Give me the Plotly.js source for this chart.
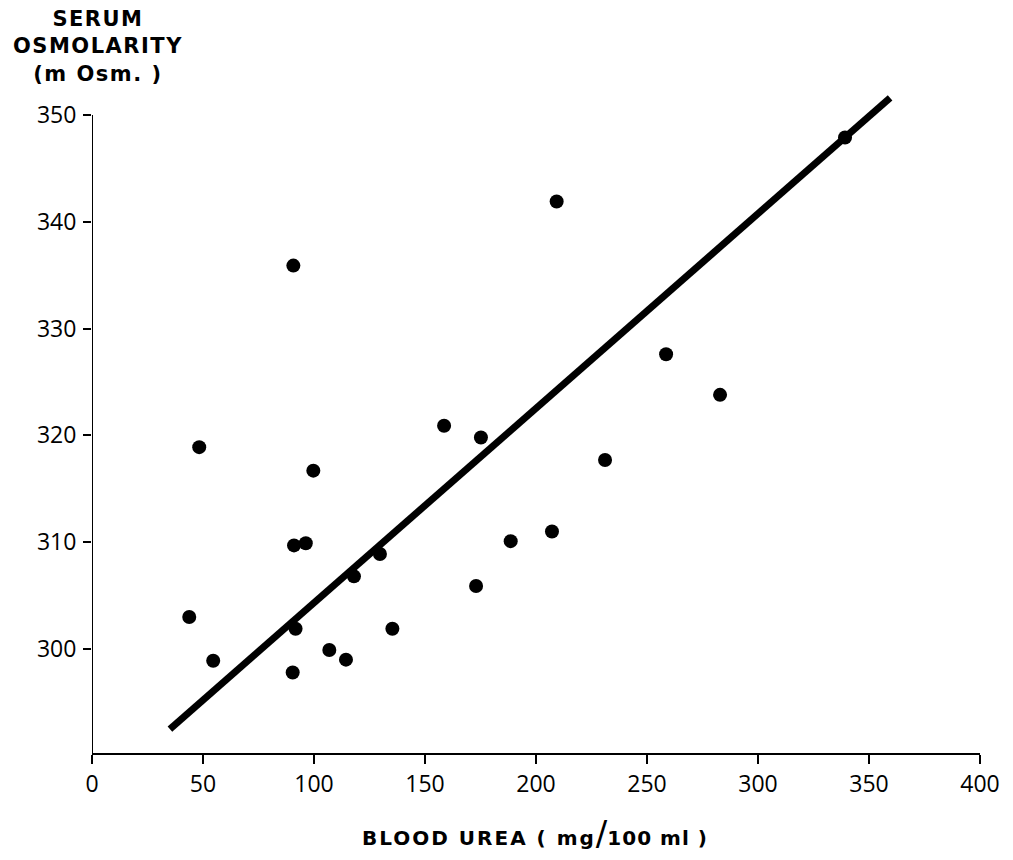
<!DOCTYPE html>
<html>
<head>
<meta charset="utf-8">
<script src="https://cdn.plot.ly/plotly-3.0.1.min.js"></script>
<style>
  html, body { margin: 0; padding: 0; background: #ffffff; }
  #chart { width: 1013px; height: 860px; }
</style>
</head>
<body>
<div id="chart"></div>
<script>
// Blood urea (mg/100ml) vs serum osmolarity (mOsm.)
const bloodUrea = [43.8, 48.3, 54.6, 90.7, 91.0, 91.7, 90.4, 96.3, 99.7, 106.9, 114.4, 118.0,
                   129.7, 135.3, 158.6, 175.2, 173.0, 188.6, 207.2, 209.3, 231.1, 258.6, 282.9, 339.2];
const serumOsmolarity = [303.0, 318.9, 298.9, 335.9, 309.7, 301.9, 297.8, 309.9, 316.7, 299.9, 299.0, 306.8,
                         308.9, 301.9, 320.9, 319.8, 305.9, 310.1, 311.0, 341.9, 317.7, 327.6, 323.8, 347.9];
// Fitted regression line endpoints, as drawn
const fitUrea = [35.1, 359.5];
const fitOsmolarity = [292.5, 351.6];

const xTicks = [0, 50, 100, 150, 200, 250, 300, 350, 400];
const yTicks = [300, 310, 320, 330, 340, 350];

const yMin = 290.26, yMax = 353, yAxisTop = 350;

const tickFont = { family: '"Open Sans", Lato, sans-serif', size: 23, color: '#000' };

const traces = [
  {
    x: fitUrea, y: fitOsmolarity, type: 'scatter', mode: 'lines',
    line: { color: '#000', width: 7 }, hoverinfo: 'skip', showlegend: false
  },
  {
    x: bloodUrea, y: serumOsmolarity, type: 'scatter', mode: 'markers',
    marker: { color: '#000', size: 14, line: { width: 0 } }, cliponaxis: false, showlegend: false
  }
];

const layout = {
  width: 1013, height: 860,
  margin: { l: 92, r: 33, t: 83, b: 107 },
  paper_bgcolor: '#fff', plot_bgcolor: '#fff',
  showlegend: false,
  xaxis: {
    range: [0, 400], tickvals: xTicks, ticktext: xTicks.map(String),
    showgrid: false, zeroline: false, showline: true, linecolor: '#000', linewidth: 2,
    ticks: 'outside', ticklen: 9, tickwidth: 2, tickcolor: '#000',
    tickfont: tickFont, ticklabelstandoff: 0
  },
  yaxis: {
    range: [yMin, yMax], tickvals: yTicks, ticktext: yTicks.map(String),
    showgrid: false, zeroline: false, showline: false,
    ticks: 'outside', ticklen: 8, tickwidth: 2, tickcolor: '#000',
    tickfont: tickFont, ticklabelstandoff: 2
  },
  shapes: [
    { type: 'line', xref: 'x', yref: 'y', x0: 0, x1: 0, y0: yMin, y1: yAxisTop,
      line: { color: '#000', width: 2 }, layer: 'above' }
  ],
  annotations: [
    {
      xref: 'paper', yref: 'paper', x: (98 - 92) / 888, y: (753 - 46) / 670,
      xanchor: 'center', yanchor: 'middle', showarrow: false, align: 'center',
      text: '<span style="letter-spacing:1.5px">SERUM</span><br><span style="letter-spacing:1.5px">OSMOLARITY</span><br><span style="letter-spacing:1.5px">(m Osm. )</span>',
      font: { family: '"DejaVu Sans", sans-serif', size: 21, color: '#000', weight: 'bold' }
    },
    {
      xref: 'paper', yref: 'paper', x: (535 - 92) / 888, y: (753 - 833) / 670,
      xanchor: 'center', yanchor: 'middle', showarrow: false,
      text: '<span style="letter-spacing:2px">BLOOD UREA ( mg</span><span style="font-size:34px;font-weight:normal">/</span><span style="letter-spacing:1px">100 ml )</span>',
      font: { family: '"DejaVu Sans", sans-serif', size: 20, color: '#000', weight: 'bold' }
    }
  ]
};

Plotly.newPlot('chart', traces, layout, { displayModeBar: false, staticPlot: true });
</script>
</body>
</html>
